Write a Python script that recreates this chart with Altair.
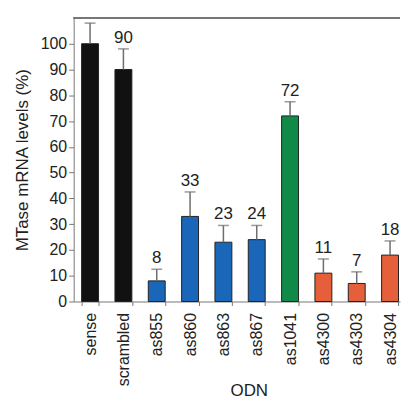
import altair as alt
import pandas as pd

categories = ["sense", "scrambled", "as855", "as860", "as863", "as867",
              "as1041", "as4300", "as4303", "as4304"]
values = [100, 90, 8, 33, 23, 24, 72, 11, 7, 18]
err_top = [108, 98, 12.5, 42.5, 29.5, 29.5, 77.5, 16.5, 11.5, 23.5]
labels = ["", "90", "8", "33", "23", "24", "72", "11", "7", "18"]
groups = ["control", "control", "as8xx", "as8xx", "as8xx", "as8xx",
          "as1041", "as43xx", "as43xx", "as43xx"]
group_names = ["control", "as8xx", "as1041", "as43xx"]
group_colors = ["#111111", "#1a66b8", "#0f8a48", "#e5603a"]

df = pd.DataFrame({"cat": categories, "val": values, "err": err_top,
                   "lab": labels, "grp": groups})

W, H = 328, 285
FONT = "Liberation Sans"

xscale = alt.Scale(paddingInner=0.4925, paddingOuter=0.1418, align=0.842)
xaxis = alt.Axis(title="ODN", labelAngle=-90, labelFontSize=16,
                 labelFont=FONT, labelColor="#222", labelPadding=7,
                 tickBand="extent", tickSize=4, tickColor="#777",
                 domainColor="#777", titleFont=FONT, titleFontSize=17,
                 titleFontWeight="normal", titleColor="#222",
                 titleBaseline="alphabetic", titleY=94, titleX=176,
                 titleAlign="center")
yscale = alt.Scale(domain=[0, 110], nice=False)
yaxis = alt.Axis(title="MTase mRNA levels (%)", values=list(range(0, 101, 10)),
                 grid=False, labelFontSize=16, labelFont=FONT,
                 labelColor="#222", tickSize=5, tickColor="#777",
                 labelOverlap=False, tickCount=11,
                 domainColor="#777", titleFont=FONT, titleFontSize=17,
                 titleFontWeight="normal", titleColor="#222",
                 titlePadding=9)

X = alt.X("cat:N", sort=categories, scale=xscale, axis=xaxis)

base = alt.Chart(df)

bars = base.mark_bar(stroke="#222", strokeWidth=1).encode(
    x=X, y=alt.Y("val:Q", scale=yscale, axis=yaxis),
    color=alt.Color("grp:N", scale=alt.Scale(domain=group_names, range=group_colors),
                    legend=None))
err_rule = base.mark_rule(color="#6e6e6e", strokeWidth=1.5).encode(
    x=X, y=alt.Y("val:Q", scale=yscale, axis=yaxis), y2="err:Q")
err_cap = base.mark_tick(color="#6e6e6e", orient="horizontal", size=11, thickness=1.5).encode(
    x=X, y=alt.Y("err:Q", scale=yscale, axis=yaxis))
text = base.transform_filter("datum.lab != ''").mark_text(
    font=FONT, fontSize=17, color="#222", baseline="alphabetic", dy=-6).encode(
    x=X, y=alt.Y("err:Q", scale=yscale, axis=yaxis), text="lab:N")
top = base.mark_rule(color="#777", strokeWidth=1).encode(
    x=alt.value(0), x2=alt.value(W), y=alt.value(0))

chart = alt.layer(bars, err_rule, err_cap, text, top).properties(
    width=W, height=H, padding={"left": 5, "top": 8, "right": 0, "bottom": 0}
).configure_view(stroke=None)

chart.save("out.html", embed_options={"renderer": "svg", "actions": False})
